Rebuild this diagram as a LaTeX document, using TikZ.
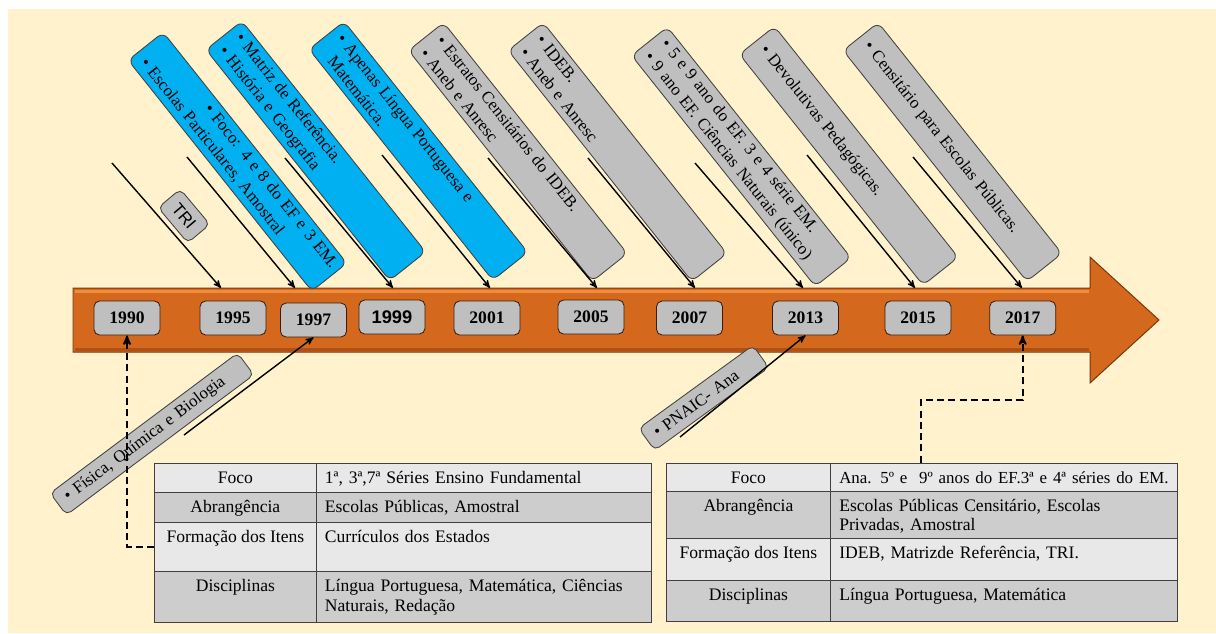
\documentclass[tikz,border=0pt]{standalone}
\usepackage{fontspec}
\setmainfont{Liberation Serif}
\newfontfamily\arialfont{Liberation Sans}
\usetikzlibrary{arrows,calc,positioning,shapes}

\definecolor{cream}{RGB}{255,242,204}
\definecolor{skyblue}{RGB}{0,176,240}
\definecolor{boxgray}{RGB}{191,191,191}
\definecolor{barorange}{RGB}{212,104,28}
\definecolor{barlight}{RGB}{240,140,60}
\definecolor{barshade}{RGB}{175,80,20}
\definecolor{bardark}{RGB}{120,55,15}
\definecolor{rowlight}{RGB}{232,232,232}
\definecolor{rowdark}{RGB}{205,205,205}
\definecolor{edgegray}{RGB}{64,64,64}

\tikzset{
>=stealth',
  note/.style={
    rectangle,
    rounded corners=5pt,
    draw=edgegray, line width=0.6pt,
    minimum width=7.375cm,
    minimum height=1.12cm,
    text width=6.9cm,
    inner xsep=0.2375cm,
    align=left,
    font=\fontsize{12}{15}\selectfont,
    rotate=-51.5},
  bluenote/.style={note, fill=skyblue},
  graynote/.style={note, fill=boxgray},
  sidenote/.style={
    rectangle,
    rounded corners=4pt,
    fill=boxgray, draw=edgegray, line width=0.6pt,
    minimum height=0.68cm,
    inner xsep=0.25cm,
    align=left,
    font=\fontsize{12}{14}\selectfont},
  yearbox/.style={
    rectangle,
    rounded corners=4pt,
    fill=boxgray, draw=bardark!50!black, line width=0.6pt,
    minimum width=1.65cm, minimum height=0.85cm,
    font=\fontsize{12.5}{14}\selectfont\bfseries},
  feed/.style={->, line width=1pt},
  dashfeed/.style={->, line width=1.3pt, dash pattern=on 5pt off 3pt},
  tabcell/.style={rectangle, draw=edgegray, line width=0.8pt, anchor=north west, inner sep=0pt},
  tabtext/.style={font=\fontsize{12.5}{14}\selectfont, inner sep=0pt},
}

\begin{document}
\begin{tikzpicture}[x=0.025cm,y=-0.025cm]
  \useasboundingbox (0,0) rectangle (1216,633);
  \fill[cream] (8,9) rectangle (1216,633);

  % time line
  \draw[fill=barorange, draw=bardark, line width=0.7pt]
    (73,288) -- (1090,288) -- (1090,257) -- (1159,320) -- (1090,383)
    -- (1090,352) -- (73,352) -- cycle;
  \draw[barlight, line width=1.5pt] (75,291.5) -- (1089,291.5);
  \draw[barshade, line width=2pt] (75,349.5) -- (1089,349.5);

  \foreach \yr/\px/\py in {1990/127/318, 1995/233/318, 1997/313.5/320,
      2001/487/318, 2005/591/317, 2007/689.5/318, 2013/805.5/318,
      2015/918/318, 2017/1022.7/318}
    \node[yearbox] (y\yr) at (\px,\py) {\yr};
  \node[yearbox, font=\arialfont\fontsize{13}{15}\selectfont\bfseries] (y1999) at (392,317) {1999};

  % notes above
  \node[yearbox, font=\arialfont\fontsize{12}{14}\selectfont, minimum width=1.15cm,
    minimum height=0.72cm, draw=edgegray, rotate=-50] (tri) at (184,216) {TRI};
  \node[bluenote] (n1) at (237.5,161.7)
    {\hspace*{1.9cm}\mbox{• Foco: 4 e 8 do EF e 3 EM.}\\• Escolas Particulares, Amostral};
  \node[bluenote] (n2) at (315.8,150.8) {• Matriz de Referência.\\• História e Geografia};
  \node[bluenote] (n3) at (418.4,150.8) {• Apenas Língua Portuguesa e\\\phantom{• }Matemática.};
  \node[graynote] (n4) at (517.9,152) {• Estratos Censitários do IDEB.\\• Aneb e Anresc};
  \node[graynote] (n5) at (617.5,152) {• IDEB.\\• Aneb e Anresc};
  \node[graynote] (n6) at (741.3,156.7)
    {• 5 e 9 ano do EF. 3 e 4 série EM.\\• 9 ano EF. Ciências Naturais (único)};
  \node[graynote] (n7) at (848.8,155.8) {• Devolutivas Pedagógicas.};
  \node[graynote] (n8) at (952.5,152) {• Censitário para Escolas Públicas.};

  \foreach \n/\sx/\sy/\ex in {1/112/163/221, 2/187/157/295, 3/285/158/393,
      4/382/155/490, 5/488/158/597, 6/588/158/695, 7/695/163/803,
      8/807/155/915, 9/913/157/1022}{
    \coordinate (s\n) at (\sx,\sy);
    \coordinate (e\n) at (\ex,288);
    \draw[feed] (s\n) -- (e\n);
  }

  % notes below
  \node[sidenote, rotate=36.8, minimum width=5.85cm, text width=5.35cm] (fisica)
    at (152,434) {• Física, Química e Biologia};
  \node[sidenote, rotate=36, minimum width=3.525cm, text width=3.025cm] (pnaic)
    at (703.8,397.9) {• PNAIC- Ana};
  \coordinate (sF) at (184,435);
  \coordinate (sP) at (680,437);
  \draw[feed] (sF) -- (y1997.south);
  \draw[feed] (sP) -- (y2013.south);

  % tables
  \foreach \r/\t/\h/\c/\ta/\tb in {
      1/462.7/29.3/rowlight/Foco/{1ª, 3ª,7ª Séries Ensino Fundamental},
      2/492/29.7/rowdark/Abrangência/{Escolas Públicas, Amostral},
      3/521.7/49.3/rowlight/{Formação dos Itens}/{Currículos dos Estados},
      4/571/50.7/rowdark/Disciplinas/{Língua Portuguesa, Matemática, Ciências\\Naturais, Redação}}{
    \node[tabcell, fill=\c, minimum width=4.04cm, minimum height=\h*0.025cm] (lA\r) at (154,\t) {};
    \node[tabcell, fill=\c, minimum width=8.385cm, minimum height=\h*0.025cm] (lB\r) at (315.6,\t) {};
    \node[tabtext, anchor=base] at ($(lA\r.north)+(0,20.5)$) {\ta};
    \node[tabtext, anchor=base west, text width=9cm, align=left] at ($(lB\r.north west)+(9,20.5)$) {\tb};
  }
  \foreach \r/\t/\h/\c/\ta/\tb in {
      1/462.7/28/rowlight/Foco/{\fontsize{12}{14}\selectfont Ana. 5º e \ 9º anos do EF.3ª e 4ª séries do EM.},
      2/490.7/47.3/rowdark/Abrangência/{Escolas Públicas Censitário, Escolas\\Privadas, Amostral},
      3/538/42/rowlight/{Formação dos Itens}/{IDEB, Matrizde Referência, TRI.},
      4/580/41/rowdark/Disciplinas/{Língua Portuguesa, Matemática}}{
    \node[tabcell, fill=\c, minimum width=4.1075cm, minimum height=\h*0.025cm] (rA\r) at (665.7,\t) {};
    \node[tabcell, fill=\c, minimum width=8.67cm, minimum height=\h*0.025cm] (rB\r) at (830,\t) {};
    \node[tabtext, anchor=base] at ($(rA\r.north)+(0,20.5)$) {\ta};
    \node[tabtext, anchor=base west, text width=9cm, align=left] at ($(rB\r.north west)+(9,20.5)$) {\tb};
  }

  % links to the tables
  \coordinate (kink) at (921,400);
  \draw[dashfeed] (lA3.west) -| (y1990.south);
  \draw[dashfeed] (rB1.north -| kink) -- (kink) -| (y2017.south);
\end{tikzpicture}
\end{document}
